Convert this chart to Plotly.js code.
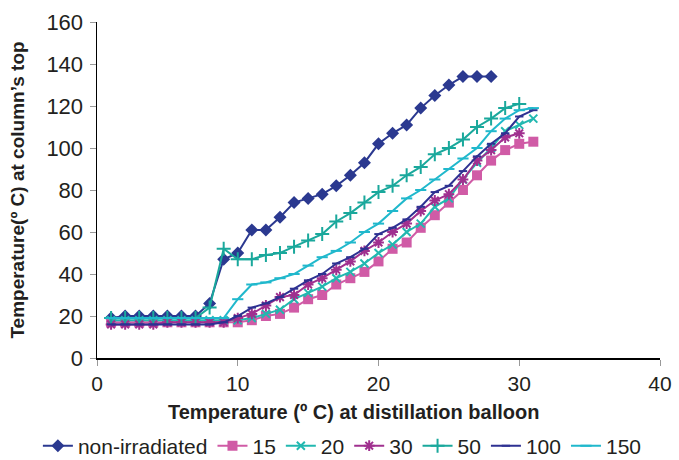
<!DOCTYPE html>
<html><head><meta charset="utf-8">
<script src="https://cdn.plot.ly/plotly-3.0.1.min.js"></script>
<style>html,body{margin:0;padding:0;background:#fff}#chart{width:679px;height:460px}</style>
</head><body><div id="chart"></div>
<script>
const seriesNames = ["non-irradiated","15","20","30","50","100","150"];
const xNonIrr = [1,2,3,4,5,6,7,8,9,10,11,12,13,14,15,16,17,18,19,20,21,22,23,24,25,26,27,28];
const yNonIrr = [19,20,20,20,20,20,20,26,47,50,61,61,67,74,76,78,82,87,93,102,107,111,119,125,130,134,134,134];
const x15 = [1,2,3,4,5,6,7,8,9,10,11,12,13,14,15,16,17,18,19,20,21,22,23,24,25,26,27,28,29,30,31];
const y15 = [17,17,17,17,17,17,17,17,17,17,18,20,21,24,28,30,35,38,41,46,52,55,62,68,74,80,87,94,99,102,103];
const x20 = [1,2,3,4,5,6,7,8,9,10,11,12,13,14,15,16,17,18,19,20,21,22,23,24,25,26,27,28,29,30,31];
const y20 = [18,18,18,18,18,18,18,18,18,18,19,21,23,28,31,34,38,41,45,50,54,60,64,72,76,85,93,100,108,111,114];
const x30 = [1,2,3,4,5,6,7,8,9,10,11,12,13,14,15,16,17,18,19,20,21,22,23,24,25,26,27,28,29,30];
const y30 = [16,16,16,16,17,17,17,17,17,19,21,25,29,30,35,38,42,46,51,55,60,64,70,75,78,85,94,99,105,107];
const x50 = [1,2,3,4,5,6,7,8,9,10,11,12,13,14,15,16,17,18,19,20,21,22,23,24,25,26,27,28,29,30];
const y50 = [19,19,19,19,19,19,19,24,52,47,47,49,50,53,56,59,65,69,74,79,82,87,91,97,100,104,110,114,119,121];
const x100 = [1,2,3,4,5,6,7,8,9,10,11,12,13,14,15,16,17,18,19,20,21,22,23,24,25,26,27,28,29,30,31];
const y100 = [16,16,16,16,16,16,16,16,17,20,24,26,29,33,37,40,45,48,52,59,62,66,72,79,82,89,96,102,107,115,118];
const x150 = [1,2,3,4,5,6,7,8,9,10,11,12,13,14,15,16,17,18,19,20,21,22,23,24,25,26,27,28,29,30,31];
const y150 = [19,19,19,19,19,19,19,19,19,28,35,36,38,40,44,48,51,55,60,64,70,76,80,85,90,95,100,108,114,118,119];
const xTicks = [0,10,20,30,40];
const yTicks = [0,20,40,60,80,100,120,140,160];
const xTitle = "Temperature (º C) at distillation balloon";
const yTitle = "Temperature(º C) at column’s top";

const colors = ["#2B3990","#D05BA6","#22B8B0","#A0308F","#1AA89C","#2E3192","#20B8CC"];
const syms = ["diamond","square","x-thin-open","asterisk-open","cross-thin-open","line-ew-open","line-ew-open"];
const sizes = [10,10,8,9,10,6,8];
const xs = [xNonIrr,x15,x20,x30,x50,x100,x150];
const ys = [yNonIrr,y15,y20,y30,y50,y100,y150];

const traces = seriesNames.map((n,i)=>({
  x: xs[i], y: ys[i], name: n, type: "scatter", mode: "lines+markers",
  line: {color: colors[i], width: 2},
  marker: {symbol: syms[i], size: sizes[i], color: colors[i], line: {color: colors[i], width: (i>=2? 2: 0)}}
}));

const layout = {
  width: 679, height: 460,
  margin: {l: 97, r: 19, t: 22, b: 102, autoexpand: false},
  paper_bgcolor: "#fff", plot_bgcolor: "#fff",
  font: {family: "Liberation Sans, Arial, sans-serif", color: "#231F20"},
  showlegend: true,
  legend: {orientation: "h", x: -0.105, xanchor: "left", y: -0.262, yanchor: "middle",
    font: {size: 21, color: "#231F20"}, itemwidth: 30, tracegroupgap: 0},
  xaxis: {range: [0, 40], tickvals: xTicks, ticktext: xTicks.map(String),
    showgrid: false, zeroline: false, showline: true, linecolor: "#000", linewidth: 1.5,
    ticks: "outside", ticklen: 6, tickcolor: "#999", tickfont: {size: 21, color: "#231F20"}},
  yaxis: {range: [0, 160], tickvals: yTicks, ticktext: yTicks.map(String),
    showgrid: false, zeroline: false, showline: true, linecolor: "#000", linewidth: 1.5,
    ticks: "outside", ticklen: 6, tickcolor: "#999", tickfont: {size: 22, color: "#231F20"},
    ticklabelstandoff: 2,
    title: {text: "<b>" + yTitle + "</b>", font: {size: 19}, standoff: 16}},
  annotations: [{text: "<b>" + xTitle + "</b>", xref: "paper", yref: "paper",
    x: 0.455, y: -0.16, xanchor: "center", yanchor: "middle", showarrow: false,
    font: {size: 20, color: "#231F20"}}]
};
Plotly.newPlot("chart", traces, layout, {displayModeBar: false, staticPlot: true});
</script></body></html>
